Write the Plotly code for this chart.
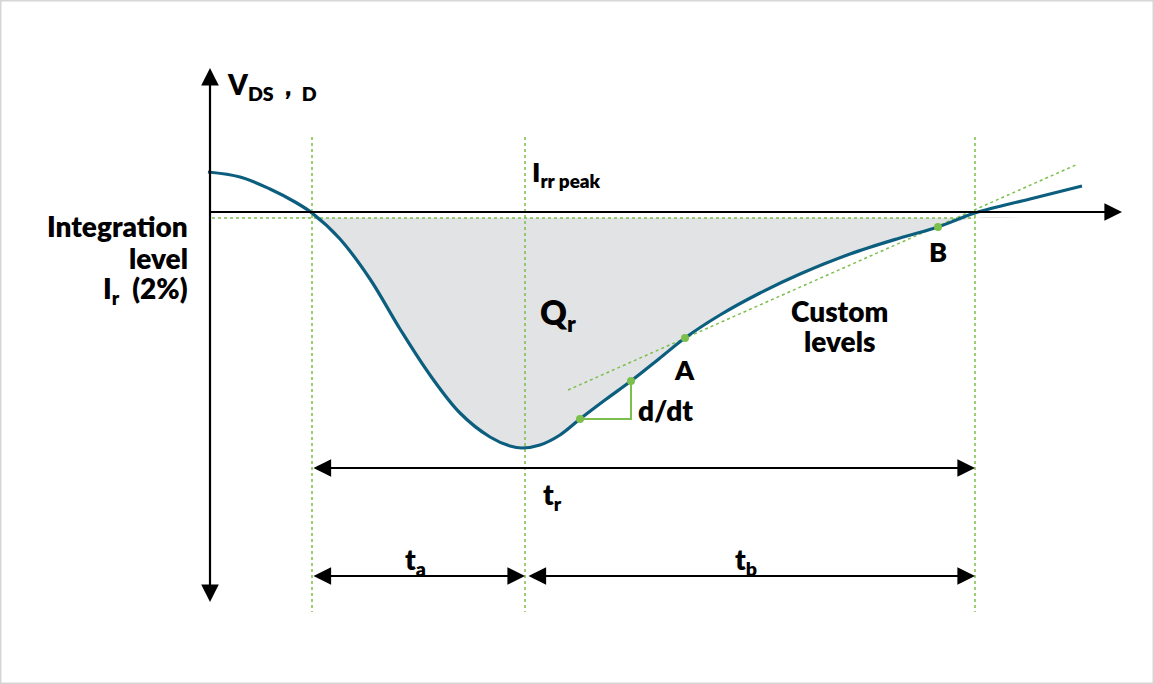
import numpy as np
import plotly.graph_objects as go

# Curve samples (diagram coordinates, y grows downward)
curve_x = [208, 240, 270, 295, 312, 340, 370, 400, 430, 460, 490, 510, 522, 540, 560, 580, 605, 631, 660, 685, 720, 760, 800, 850, 900, 938, 975, 1030, 1082]
curve_y = [172, 177, 189, 202, 213, 239, 279, 329, 375, 413, 437, 446, 448, 445, 435, 419, 400, 381, 358, 338, 315, 293, 274, 254, 238, 227, 213, 199, 186]

level_y = 218          # integration level
axis_y = 212           # time axis
t_marks = [312, 525, 975]   # start, peak, end of recovery
tangent_x = [568, 1078]
tangent_y = [390, 164]
pts_x = [580, 631, 685, 938]
pts_y = [419, 381, 338, 227]

TEAL = "#0b5e7e"
GREEN = "#7cbf4c"
FONT = "Lato"

fig = go.Figure()

# shaded Qr area
cx = np.array(curve_x, dtype=float)
cy = np.array(curve_y, dtype=float)
fig.add_trace(go.Scatter(x=[cx[0], cx[-1]], y=[level_y, level_y], mode="lines",
                         line=dict(width=0), hoverinfo="skip", showlegend=False))
fig.add_trace(go.Scatter(x=cx, y=np.maximum(cy, level_y), mode="lines", line=dict(width=0, shape="spline"),
                         fill="tonexty", fillcolor="#e2e3e5", hoverinfo="skip", showlegend=False))

# dashed guide lines
for tx in t_marks:
    fig.add_trace(go.Scatter(x=[tx, tx], y=[137, 612], mode="lines",
                             line=dict(color=GREEN, width=1.5, dash="3px,3px"), showlegend=False))
fig.add_trace(go.Scatter(x=[212, t_marks[2]], y=[level_y, level_y], mode="lines",
                         line=dict(color=GREEN, width=1.5, dash="3px,3px"), showlegend=False))
fig.add_trace(go.Scatter(x=tangent_x, y=tangent_y, mode="lines",
                         line=dict(color=GREEN, width=1.5, dash="3px,3px"), showlegend=False))

# d/dt triangle
fig.add_trace(go.Scatter(x=[pts_x[0], pts_x[1], pts_x[1]], y=[pts_y[0], pts_y[0], pts_y[1]], mode="lines",
                         line=dict(color=GREEN, width=2), showlegend=False))

# axes arrows
ann = []
def arrow(x0, y0, x1, y1, both=False):
    ann.append(dict(x=x1, y=y1, ax=x0, ay=y0, xref="x", yref="y", axref="x", ayref="y",
                    showarrow=True, arrowhead=2, arrowsize=1.6, arrowwidth=2.2, arrowcolor="black",
                    arrowside="end+start" if both else "end", standoff=0, startstandoff=0, text=" ",
                    font=dict(size=1)))

arrow(210, 604, 210, 68, both=True)
fig.add_trace(go.Scatter(x=[210, 1110], y=[axis_y, axis_y], mode="lines",
                         line=dict(color="black", width=2), showlegend=False))
arrow(210, axis_y, 1122, axis_y)

# curve
fig.add_trace(go.Scatter(x=curve_x, y=curve_y, mode="lines",
                         line=dict(color=TEAL, width=3.2, shape="spline"), showlegend=False))
fig.add_trace(go.Scatter(x=pts_x, y=pts_y, mode="markers",
                         marker=dict(color=GREEN, size=8), showlegend=False))

# time intervals
arrow(312, 468, 975, 468, both=True)
arrow(312, 576, 525, 576, both=True)
arrow(527, 576, 975, 576, both=True)

def label(x, y, text, size=26, xanchor="left"):
    ann.append(dict(x=x, y=y, xref="x", yref="y", text=text, showarrow=False,
                    xanchor=xanchor, yanchor="middle", align=xanchor if xanchor != "center" else "center",
                    font=dict(family=FONT, size=size, color="black", weight=800)))

label(225, 86, "V<sub>DS</sub>，<sub>D</sub>", 28)
label(190, 226, "Integration", 28, xanchor="right")
label(190, 258, "level", 28, xanchor="right")
label(190, 290, "I<sub>r</sub>  (2%)", 28, xanchor="right")
label(530, 173, "I<sub>rr peak</sub>", 27)
label(538, 314, "Q<sub>r</sub>", 33)
label(839, 311, "Custom", 28, xanchor="center")
label(839, 341, "levels", 28, xanchor="center")
label(684, 369, "A", 27, xanchor="center")
label(938, 251, "B", 27, xanchor="center")
label(636, 410, "d/dt", 28)
label(541, 496, "t<sub>r</sub>", 28)
label(415, 561, "t<sub>a</sub>", 28, xanchor="center")
label(746, 561, "t<sub>b</sub>", 28, xanchor="center")

fig.update_layout(
    width=1154, height=684, margin=dict(l=0, r=0, t=0, b=0),
    paper_bgcolor="white", plot_bgcolor="white",
    xaxis=dict(range=[0, 1154], visible=False, fixedrange=True),
    yaxis=dict(range=[684, 0], visible=False, fixedrange=True),
    annotations=ann,
    shapes=[dict(type="rect", xref="paper", yref="paper", x0=0, y0=0, x1=1, y1=1,
                 line=dict(color="#d6d6d6", width=3), fillcolor="rgba(0,0,0,0)")],
    showlegend=False,
)

fig.write_html("out.html", config={"displayModeBar": False},
               post_script="document.body.style.margin='0';document.body.style.overflow='hidden';")
